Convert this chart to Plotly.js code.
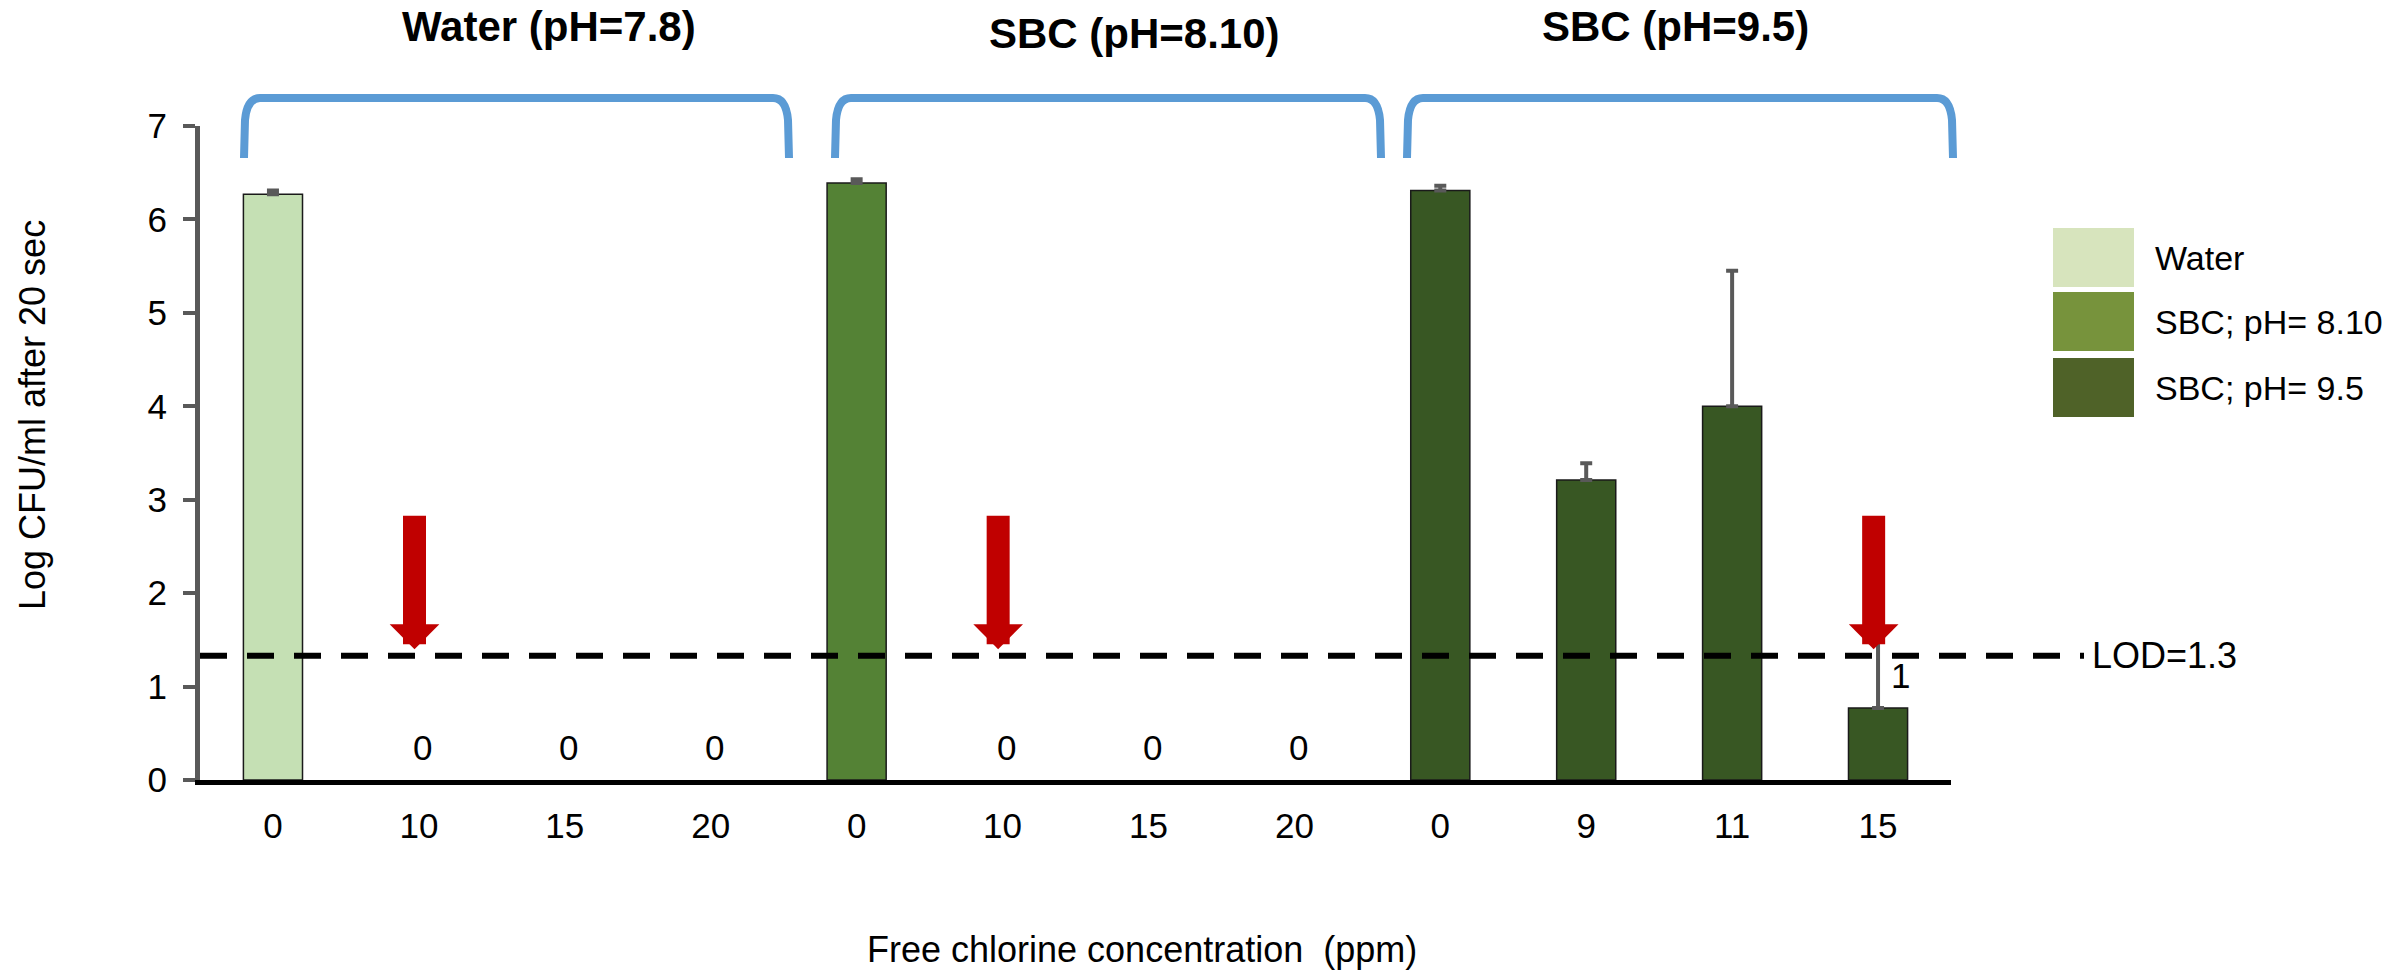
<!DOCTYPE html>
<html>
<head>
<meta charset="utf-8">
<script src="https://cdn.plot.ly/plotly-3.0.1.min.js"></script>
<style>html,body{margin:0;padding:0;background:#fff;}#chart{width:2400px;height:972px;}</style>
</head>
<body>
<div id="chart"></div>
<script>
// ---------- data ----------
var tickLabels = ['0', '10', '15', '20', '0', '10', '15', '20', '0', '9', '11', '15'];
var waterIdx = [0, 1, 2, 3];
var waterVals = [6.27, 0, 0, 0];
var waterErr = [0.04, 0, 0, 0];
var sbc810Idx = [4, 5, 6, 7];
var sbc810Vals = [6.39, 0, 0, 0];
var sbc810Err = [0.04, 0, 0, 0];
var sbc95Idx = [8, 9, 10, 11];
var sbc95Vals = [6.31, 3.21, 4.00, 0.77];
var sbc95Err = [0.05, 0.18, 1.45, 1.34];
var seriesNames = ['Water', 'SBC; pH= 8.10', 'SBC; pH= 9.5'];
var groupTitles = ['Water (pH=7.8)', 'SBC (pH=8.10)', 'SBC (pH=9.5)'];
var countLabels = ['', '0', '0', '0', '', '0', '0', '0', '', '', '', '1'];
var arrowIdx = [1, 5, 11];
var arrowTop = 2.85;
var arrowTip = 1.40;
var lod = 1.33;
var lodLabel = 'LOD=1.3';

// ---------- styles ----------
var FONT = 'Arial, "Liberation Sans", Helvetica, sans-serif';
var barColors = ['#C5E0B4', '#548235', '#385723'];
var legendColors = ['#D7E4BD', '#77933C', '#4F6228'];
var L = 200, R = 1951, T = 126, B = 780;
var W = R - L, H = B - T;
function px(x) { return (x - L) / W; }
function py(y) { return (B - y) / H; }

function barTrace(idx, vals, err, i) {
  return {
    type: 'bar', x: idx, y: vals, name: seriesNames[i], width: 0.405,
    marker: {color: barColors[i],
             line: {color: '#1a1a1a', width: vals.map(function(v){return v > 0 ? 1.5 : 0;})}},
    error_y: {type: 'data', symmetric: false,
              array: err.map(function(e, k){return vals[k] > 0 ? e : NaN;}),
              arrayminus: err.map(function(e, k){return vals[k] > 0 ? 0 : NaN;}),
              color: '#595959', thickness: 4, width: 6},
    showlegend: false, hoverinfo: 'x+y'
  };
}
var data = [
  barTrace(waterIdx, waterVals, waterErr, 0),
  barTrace(sbc810Idx, sbc810Vals, sbc810Err, 1),
  barTrace(sbc95Idx, sbc95Vals, sbc95Err, 2)
];

var allVals = waterVals.concat(sbc810Vals, sbc95Vals);
var allIdx = waterIdx.concat(sbc810Idx, sbc95Idx);

var shapes = [];
var annotations = [];

// LOD dashed line
shapes.push({type: 'line', xref: 'paper', yref: 'y', x0: 0, x1: px(2084), y0: lod, y1: lod,
  line: {color: '#000', width: 6, dash: '27px,20px'}, layer: 'above'});
annotations.push({xref: 'paper', yref: 'y', x: px(2090), y: lod, text: lodLabel, showarrow: false,
  xanchor: 'left', yanchor: 'middle', font: {family: FONT, size: 36, color: '#000'}});

// group brackets and titles
var bracketSpans = [[244, 789], [835, 1381], [1407, 1953]];
var titleCenters = [[549, 27], [1134, 33], [1675, 27]];
var yTop = 98, yBot = 158;
bracketSpans.forEach(function(s, i) {
  var x0 = s[0], x1 = s[1];
  var p = 'M' + px(x0) + ',' + py(yBot) +
    ' L' + px(x0 + 1) + ',' + py(yTop + 22) +
    ' Q' + px(x0 + 3) + ',' + py(yTop) + ' ' + px(x0 + 16) + ',' + py(yTop) +
    ' L' + px(x1 - 16) + ',' + py(yTop) +
    ' Q' + px(x1 - 3) + ',' + py(yTop) + ' ' + px(x1 - 1) + ',' + py(yTop + 22) +
    ' L' + px(x1) + ',' + py(yBot);
  shapes.push({type: 'path', xref: 'paper', yref: 'paper', path: p,
    line: {color: '#5B9BD5', width: 8}});
  annotations.push({xref: 'paper', yref: 'paper', x: px(titleCenters[i][0]), y: py(titleCenters[i][1]),
    text: '<b>' + groupTitles[i] + '</b>', showarrow: false, xanchor: 'center', yanchor: 'middle',
    font: {family: FONT, size: 42, color: '#000'}});
});

// count labels above bars
allIdx.forEach(function(x, k) {
  var t = countLabels[x];
  if (!t) return;
  var v = allVals[k];
  annotations.push({xref: 'x', yref: 'y', x: x, y: v + 0.35, text: t, showarrow: false,
    xanchor: 'center', yanchor: 'middle', xshift: v > 0 ? 22 : 4,
    font: {family: FONT, size: 35, color: '#000'}});
});

// red arrows
arrowIdx.forEach(function(x) {
  annotations.push({xref: 'x', yref: 'y', axref: 'x', ayref: 'y', x: x - 0.03, y: arrowTip,
    ax: x - 0.03, ay: arrowTop, text: ' ', showarrow: true, arrowhead: 1, arrowsize: 0.36,
    arrowwidth: 23, arrowcolor: '#C00000', standoff: 0, startstandoff: 0,
    font: {size: 1}});
});

// custom legend
var legTops = [228, 292, 358];
legTops.forEach(function(t, i) {
  shapes.push({type: 'rect', xref: 'paper', yref: 'paper', x0: px(2053), x1: px(2134),
    y0: py(t), y1: py(t + 59), fillcolor: legendColors[i], line: {width: 0}});
  annotations.push({xref: 'paper', yref: 'paper', x: px(2153), y: py(t + 30), text: seriesNames[i],
    showarrow: false, xanchor: 'left', yanchor: 'middle', font: {family: FONT, size: 34, color: '#000'}});
});

// axis titles
annotations.push({xref: 'paper', yref: 'paper', x: px(1142), y: py(949),
  text: 'Free chlorine concentration \u00a0(ppm)', showarrow: false, xanchor: 'center', yanchor: 'middle',
  font: {family: FONT, size: 36, color: '#000'}});
annotations.push({xref: 'paper', yref: 'paper', x: px(32), y: py(415), textangle: -90,
  text: 'Log CFU/ml after 20 sec', showarrow: false, xanchor: 'center', yanchor: 'middle',
  font: {family: FONT, size: 36, color: '#000'}});

var layout = {
  width: 2400, height: 972,
  margin: {l: L, r: 2400 - R, t: T, b: 972 - B, pad: 0},
  paper_bgcolor: '#fff', plot_bgcolor: '#fff',
  font: {family: FONT, size: 35, color: '#000'},
  barmode: 'overlay',
  xaxis: {
    range: [-0.5, 11.5], tickmode: 'array', tickvals: tickLabels.map(function(_, i){return i;}),
    ticktext: tickLabels, ticks: '', showline: true, linecolor: '#000', linewidth: 5,
    showgrid: false, zeroline: false, tickfont: {family: FONT, size: 35, color: '#000'},
    ticklabelstandoff: 11, automargin: false
  },
  yaxis: {
    range: [0, 7], dtick: 1, tick0: 0, ticks: 'outside', ticklen: 12, tickwidth: 4, tickcolor: '#595959',
    showline: true, linecolor: '#595959', linewidth: 5, showgrid: false, zeroline: false,
    tickfont: {family: FONT, size: 35, color: '#000'}, ticklabelstandoff: 9, automargin: false
  },
  shapes: shapes,
  annotations: annotations,
  showlegend: false
};

Plotly.newPlot('chart', data, layout, {displayModeBar: false, staticPlot: true});
</script>
</body>
</html>
